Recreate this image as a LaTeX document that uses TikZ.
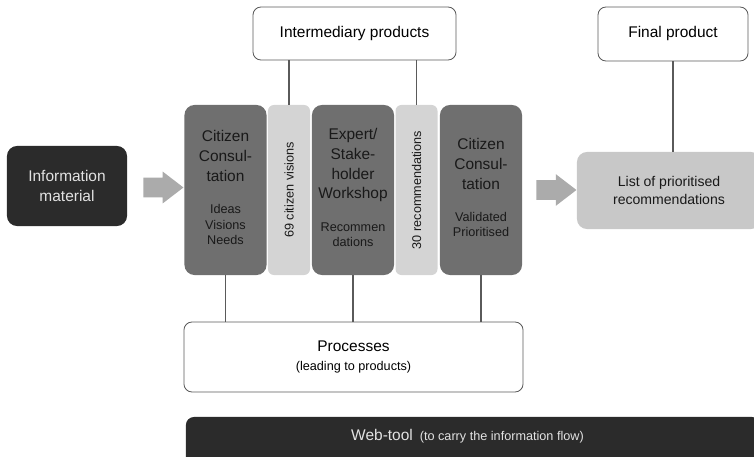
\documentclass[tikz,border=0pt]{standalone}
\usepackage{fontspec}
\setmainfont{Liberation Sans}
\usetikzlibrary{shapes.arrows}

\definecolor{inkbox}{HTML}{2B2B2B}
\definecolor{stagegray}{HTML}{6F6F6F}
\definecolor{stripgray}{HTML}{D4D4D4}
\definecolor{listgray}{HTML}{C8C8C8}
\definecolor{flowgray}{HTML}{ABABAB}
\definecolor{edgegray}{HTML}{5A5A5A}
\definecolor{paletext}{HTML}{E2E2E2}

\newcommand\subsize{\fontsize{9}{11}\selectfont}
\newcommand\sublines[1]{{\subsize\begin{tabular}[t]{@{}c@{}}#1\end{tabular}}}

\begin{document}
\begin{tikzpicture}[
    x=0.025cm, y=-0.025cm,
    stage/.style={fill=stagegray, rounded corners=0.25cm, minimum width=2.05cm, minimum height=4.25cm, inner sep=0pt, align=center, font=\fontsize{11}{14}\selectfont, text=black!90},
    strip/.style={fill=stripgray, rounded corners=0.15cm, minimum width=1.05cm, minimum height=4.25cm, inner sep=0pt, font=\subsize, text=black!90},
    frame/.style={draw=edgegray, line width=0.6pt, fill=white, rounded corners=0.2cm, align=center, font=\fontsize{11}{13}\selectfont},
    flow/.style={single arrow, fill=flowgray, minimum height=1cm, inner xsep=0pt, inner ysep=0.24cm, single arrow head extend=0.15cm, single arrow tip angle=75},
    link/.style={draw=edgegray, line width=0.9pt},
]
    \useasboundingbox (0,0) rectangle (754,457);
    \clip (0,0) rectangle (754,457);

    % input and result
    \node[fill=inkbox, text=paletext, rounded corners=0.25cm, minimum width=3cm, minimum height=2cm, align=center, font=\fontsize{11}{14}\selectfont] (info) at (67,186) {Information\\material};
    \node[fill=listgray, rounded corners=0.25cm, minimum width=4.6cm, minimum height=1.925cm, align=center, font=\fontsize{10}{13}\selectfont, text=black!90] (list) at (669,190.5) {List of prioritised\\recommendations};

    % the three stages and the products between them
    \node[stage] (cc1) at (225.5,190) {Citizen\\Consul-\\tation\\[9pt]\sublines{Ideas\\Visions\\Needs}};
    \node[strip] (vis) at (289,190) {\rotatebox{90}{69 citizen visions}};
    \node[stage] (exp) at (353,190) {Expert/\\Stake-\\holder\\Workshop\\[9pt]\sublines{Recommen\\dations}};
    \node[strip] (rec) at (416.5,190) {\rotatebox{90}{30 recommendations}};
    \node[stage] (cc3) at (481,190) {Citizen\\Consul-\\tation\\[9pt]\sublines{Validated\\Prioritised}};

    \node[flow] (arr1) at (157,187.5) {};
    \node[flow] (arr2) at (550,190) {};

    % labels
    \node[frame, minimum width=5.075cm, minimum height=1.325cm] (inter) at (354.5,33.5) {Intermediary products};
    \node[frame, minimum width=3.75cm, minimum height=1.35cm] (final) at (673,34) {Final product};
    \node[frame, minimum width=8.475cm, minimum height=1.75cm] (proc) at (353.5,357) {Processes\\{\subsize(leading to products)}};

    \node[fill=inkbox, text=paletext, rounded corners=0.2cm, minimum width=14.35cm, minimum height=1.325cm, text depth=0.42cm, font=\fontsize{11}{13}\selectfont] (web) at (473,443.5) {Web-tool\hspace{5pt}{\subsize(to carry the information flow)}\hspace*{0.275cm}};

    \draw[link] (vis.north) -- (vis.north |- inter.south);
    \draw[link] (rec.north) -- (rec.north |- inter.south);
    \draw[link] (final.south) -- (final.south |- list.north);
    \draw[link] (cc1.south) -- (cc1.south |- proc.north);
    \draw[link] (exp.south) -- (exp.south |- proc.north);
    \draw[link] (cc3.south) -- (cc3.south |- proc.north);
\end{tikzpicture}
\end{document}
